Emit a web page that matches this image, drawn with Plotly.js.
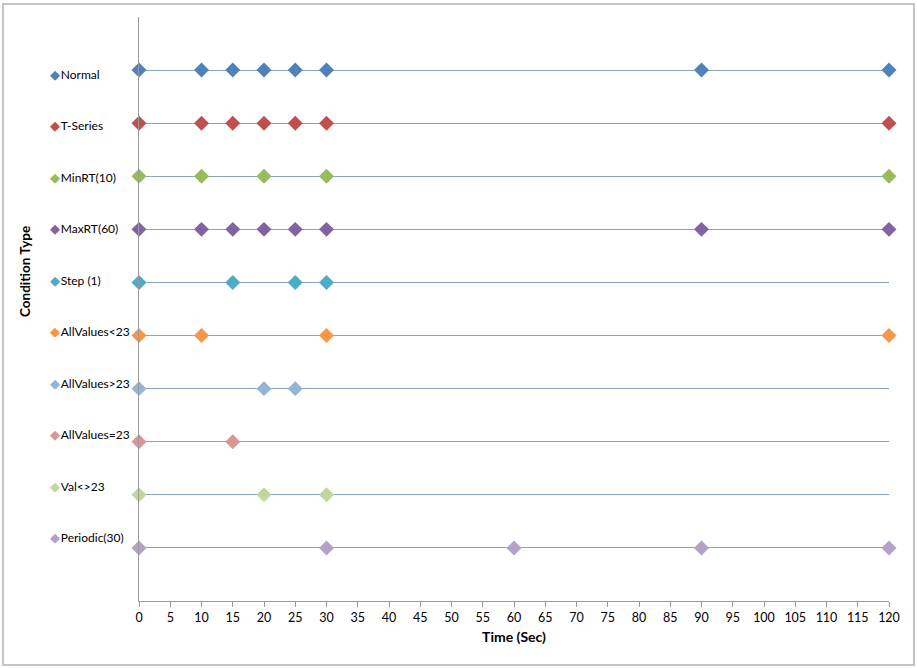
<!DOCTYPE html>
<html>
<head>
<meta charset="utf-8">
<script src="https://cdn.plot.ly/plotly-3.0.1.min.js"></script>
<style>
  body { margin: 0; background: #fff; }
  #graph { width: 917px; height: 668px; }
  #frame {
    position: absolute; left: 2px; top: 3px; width: 909px; height: 659px;
    border: 2px solid #c4c4c4; pointer-events: none;
  }
</style>
</head>
<body>
<div id="graph"></div>
<div id="frame"></div>
<script>
// condition types, top to bottom
const conditions = ['Normal', 'T-Series', 'MinRT(10)', 'MaxRT(60)', 'Step (1)',
    'AllValues<23', 'AllValues>23', 'AllValues=23', 'Val<>23', 'Periodic(30)'];
const rowLevel = [10, 9, 8, 7, 6, 5, 4, 3, 2, 1];
const colors = ['#4F81BD', '#C0504D', '#9BBB59', '#8064A2', '#4BACC6',
    '#F79646', '#95B3D7', '#D99694', '#C3D69B', '#B3A2C7'];

// times (sec) at which each condition fires
const times = [
    [0, 10, 15, 20, 25, 30, 90, 120],
    [0, 10, 15, 20, 25, 30, 120],
    [0, 10, 20, 30, 120],
    [0, 10, 15, 20, 25, 30, 90, 120],
    [0, 15, 25, 30],
    [0, 10, 30, 120],
    [0, 20, 25],
    [0, 15],
    [0, 20, 30],
    [0, 30, 60, 90, 120]
];

const xTicks = [];
for (let t = 0; t <= 120; t += 5) xTicks.push(t);

const font = 'Lato, "Open Sans", sans-serif';

// plot area in px, used to place the label column
const plotTop = 17, plotBottom = 601, plotLeft = 139, plotRight = 889;
const toPaperY = px => (plotBottom - px) / (plotBottom - plotTop);
const toPaperX = px => (px - plotLeft) / (plotRight - plotLeft);

const traces = conditions.map((name, i) => ({
    type: 'scatter',
    mode: 'markers',
    name: name,
    x: times[i],
    y: times[i].map(() => rowLevel[i]),
    cliponaxis: false,
    marker: { symbol: 'diamond', size: 11.5, color: colors[i] },
    hoverinfo: 'x+name'
}));

const esc = s => s.replace(/</g, '&lt;').replace(/>/g, '&gt;');

const labels = conditions.map((name, i) => ({
    xref: 'paper', yref: 'paper',
    x: toPaperX(48), y: toPaperY(74 + i * 51.45),
    xanchor: 'left', yanchor: 'middle',
    showarrow: false,
    align: 'left',
    text: '<span style="color:' + colors[i] + ';font-size:13px">◆</span>\u200A' + esc(name),
    font: { family: font, size: 12, color: '#000' }
}));

labels.push({
    xref: 'paper', yref: 'paper',
    x: toPaperX(25), y: toPaperY(272),
    xanchor: 'center', yanchor: 'middle',
    showarrow: false, textangle: -90,
    text: '<b>Condition Type</b>',
    font: { family: font, size: 13.5, color: '#000' }
});

const layout = {
    width: 917,
    height: 668,
    margin: { l: plotLeft, r: 917 - plotRight, t: plotTop, b: 668 - plotBottom },
    paper_bgcolor: '#fff',
    plot_bgcolor: '#fff',
    showlegend: false,
    font: { family: font, size: 12, color: '#000' },
    xaxis: {
        range: [0, 120],
        tickvals: xTicks,
        ticks: 'outside',
        ticklen: 5,
        tickcolor: '#9a9a9a',
        showgrid: false,
        zeroline: false,
        showline: true,
        linecolor: '#9a9a9a',
        linewidth: 1,
        tickfont: { family: font, size: 12.5, color: '#000' },
        title: { text: '<b>Time (Sec)</b>', standoff: 8, font: { family: font, size: 14 } }
    },
    yaxis: {
        range: [0, 11],
        tickvals: [1, 2, 3, 4, 5, 6, 7, 8, 9, 10, 11],
        showticklabels: false,
        ticks: '',
        showgrid: true,
        gridcolor: '#8DA3B8',
        gridwidth: 1,
        zeroline: false,
        showline: true,
        linecolor: '#9a9a9a',
        linewidth: 1
    },
    annotations: labels
};

Plotly.newPlot('graph', traces, layout, { displayModeBar: false, staticPlot: true });
</script>
</body>
</html>
